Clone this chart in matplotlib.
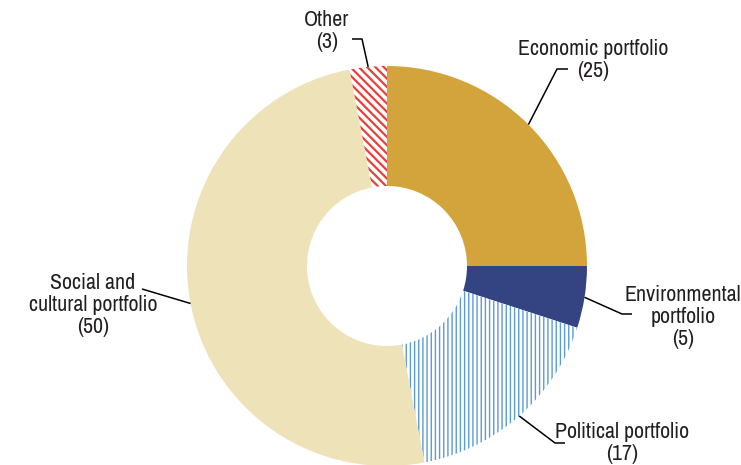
import numpy as np
import matplotlib
matplotlib.use('Agg')
import matplotlib.pyplot as plt
from matplotlib import font_manager

# prefer a narrow face if one is installed
names = sorted({f.name for f in font_manager.fontManager.ttflist})
narrow = [n for n in names if 'Narrow' in n or 'Condensed' in n]
if narrow:
    family, fsize = narrow[0], 15.8
else:
    family, fsize = 'Roboto', 13
plt.rcParams['font.family'] = [family, 'DejaVu Sans']
plt.rcParams['hatch.linewidth'] = 1.2

# portfolio shares
labels = ['Economic portfolio', 'Environmental\nportfolio', 'Political portfolio',
          'Social and\ncultural portfolio', 'Other']
values = [25, 5, 17, 50, 3]
colors = ['#D4A43C', '#344482', '#FFFFFF', '#EEE2B9', '#FFFFFF']
hatches = [None, None, '||||', None, '\\\\\\\\']
hatch_colors = [None, None, '#5B9BD5', None, '#E8403A']
hatch_widths = [None, None, 1.0, None, 1.6]

W, H = 741, 465
fig = plt.figure(figsize=(W / 100, H / 100), dpi=100)
ax = fig.add_axes([0, 0, 1, 1])

cx, cy, R = 387, H - 266, 200
wedges, _ = ax.pie(values, colors=colors, startangle=90, counterclock=False,
                   center=(cx, cy), radius=R, frame=True,
                   wedgeprops=dict(width=R * 0.6, linewidth=0))
ax.set_xlim(0, W)
ax.set_ylim(0, H)
ax.set_aspect('equal')
ax.axis('off')

for w, h, hc, hw in zip(wedges, hatches, hatch_colors, hatch_widths):
    if h:
        w.set_hatch(h)
        w.set_edgecolor(hc)
        w.set_linewidth(0)
        if hasattr(w, 'set_hatch_linewidth'):
            w.set_hatch_linewidth(hw)

# label text position, elbow and end of leader (pixels from top-left)
label_pos = [(593, 60), (683, 317), (622, 443), (93, 305), (327, 31)]
elbows = [[(557, 69), (568, 69)],
          [(622, 314), (632, 314)],
          [(555, 443), (565, 443)],
          [(142, 289)],
          [(362, 39), (352, 39)]]

for w, lab, v, (tx, ty), pts in zip(wedges, labels, values, label_pos, elbows):
    ang = np.deg2rad((w.theta1 + w.theta2) / 2)
    sx, sy = cx + R * np.cos(ang), cy + R * np.sin(ang)
    xs = [sx] + [p[0] for p in pts]
    ys = [sy] + [H - p[1] for p in pts]
    ax.plot(xs, ys, color='black', lw=1.1, solid_capstyle='butt')
    ax.text(tx, H - ty, f'{lab}\n({v})', ha='center', va='center',
            multialignment='center', fontsize=fsize, linespacing=1.15,
            color='#231F20')

fig.savefig('out.png', dpi=100)
